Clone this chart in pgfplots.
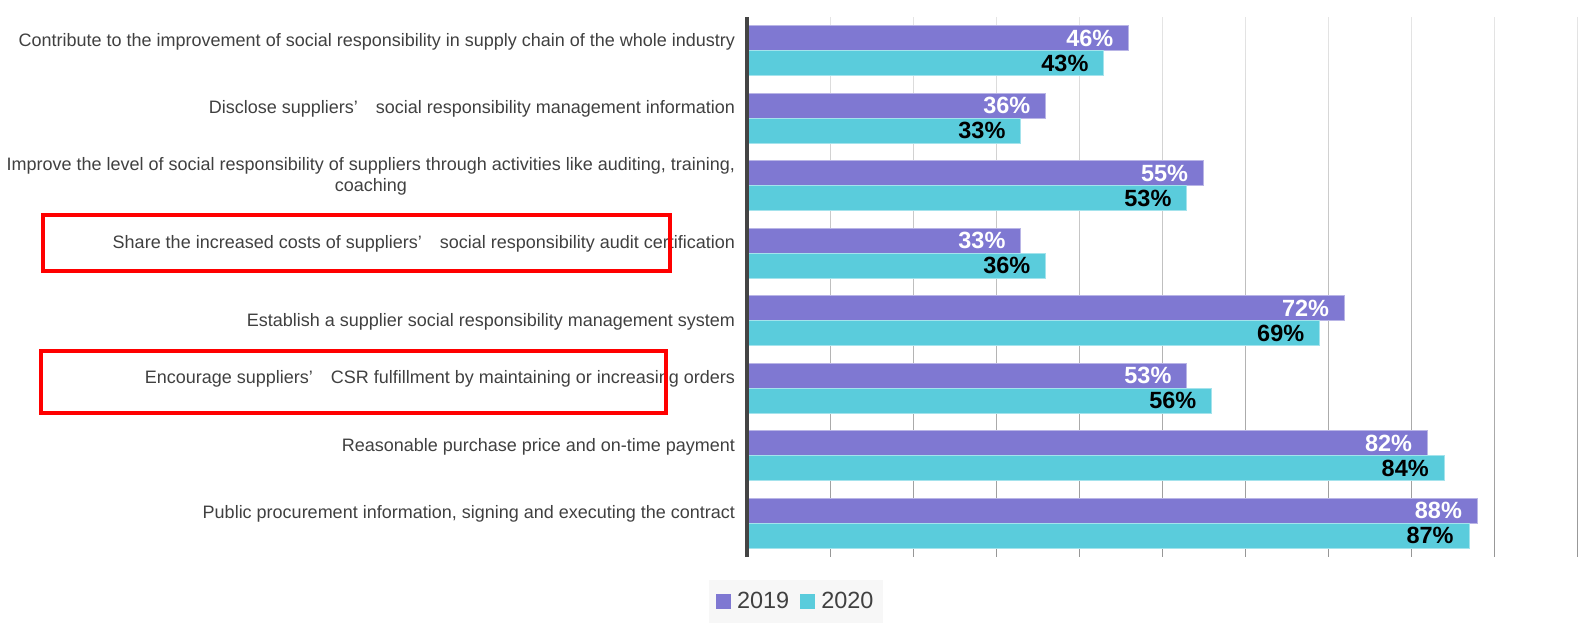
\documentclass[border=0pt]{standalone}
\usepackage{pgfplots}
\pgfplotsset{compat=1.18}
\usepackage{fontspec}
\setmainfont{Liberation Sans}
\usetikzlibrary{fadings}
\definecolor{cpurple}{RGB}{127,120,210}
\definecolor{ccyan}{RGB}{90,204,220}
\definecolor{ctext}{RGB}{64,64,64}
\definecolor{cgrid}{RGB}{150,150,150}
\definecolor{caxis}{RGB}{68,68,68}
\tikzfading[name=gridfade, top color=transparent!76, bottom color=transparent!0]
\pgfplotstableread{
y v2019 v2020
0 46 43
1 36 33
2 55 53
3 33 36
4 72 69
5 53 56
6 82 84
7 88 87
}\datatable
\newcommand{\ap}{’\hspace{1.0em}}
\begin{document}
\begin{tikzpicture}
\useasboundingbox (0,0) rectangle (1197pt,473.25pt);
\begin{axis}[
  at={(560.25pt,55.5pt)}, anchor=south west,
  scale only axis, width=622.5pt, height=405pt,
  xbar, bar width=18.75pt,
  xmin=0, xmax=100, ymin=-0.5, ymax=7.5,
  y dir=reverse,
  /pgf/number format/assume math mode=true,
  xtick={10,20,...,100}, xticklabels={},
  xtick style={draw=none}, ytick style={draw=none},
  xmajorgrids, major grid style={draw=cgrid, line width=0.75pt, path fading=gridfade},
  axis line style={draw=none},
  ytick={0,...,7},
  yticklabel style={anchor=base east, inner sep=0pt, xshift=-4.5pt, yshift=3.45pt,
    font=\fontsize{13.5pt}{15.375pt}\selectfont, text=ctext},
  yticklabels={
    Contribute to the improvement of social responsibility in supply chain of the whole industry,
    Disclose suppliers\ap social responsibility management information,
    {\raisebox{-7.5pt}{\begin{tabular}[b]{@{}c@{}}Improve the level of social responsibility of suppliers through activities like auditing{,} training{,}\\coaching\end{tabular}}},
    Share the increased costs of suppliers\ap social responsibility audit certification,
    {\raisebox{-7.5pt}{Establish a supplier social responsibility management system}},
    Encourage suppliers\ap CSR fulfillment by maintaining or increasing orders,
    Reasonable purchase price and on-time payment,
    {Public procurement information{,} signing and executing the contract}
  },
  legend style={at={(0.059,-0.0825)}, anchor=center, draw=none, fill=black!3,
    inner xsep=5pt, inner ysep=7.5pt,
    font=\fontsize{17.6pt}{20pt}\selectfont, text=ctext,
    /tikz/every even column/.append style={column sep=6pt}},
  legend columns=2,
  legend image code/.code={\fill[#1, draw=none] (0pt,-5.625pt) rectangle (11.25pt,5.625pt);
    \path[draw=none, fill=none] (0pt,0pt) -- (14pt,0pt);},
  clip=false,
]
\addplot+[bar shift=9.375pt, fill=cpurple, draw=cpurple!55!white, line width=0.75pt,
  nodes near coords={\pgfmathprintnumber{\pgfplotspointmeta}\%},
  nodes near coords style={anchor=east, inner sep=0pt, xshift=-11.25pt, text=white,
    font=\fontsize{17.6pt}{17.6pt}\selectfont\bfseries}]
  table[x=v2019, y=y] {\datatable};
\addplot+[bar shift=-9.375pt, fill=ccyan, draw=ccyan!55!white, line width=0.75pt,
  nodes near coords={\pgfmathprintnumber{\pgfplotspointmeta}\%},
  nodes near coords style={anchor=east, inner sep=0pt, xshift=-11.25pt, text=black,
    font=\fontsize{17.6pt}{17.6pt}\selectfont\bfseries}]
  table[x=v2020, y=y] {\datatable};
\legend{2019,2020}
\draw[caxis, line width=2.4pt] (rel axis cs:0,0) -- (rel axis cs:0,1);
\end{axis}
\draw[red, line width=3pt] (32.25pt,270pt) rectangle (502.5pt,312pt);
\draw[red, line width=3pt] (30.5pt,163.5pt) rectangle (499.5pt,210pt);
\end{tikzpicture}
\end{document}
